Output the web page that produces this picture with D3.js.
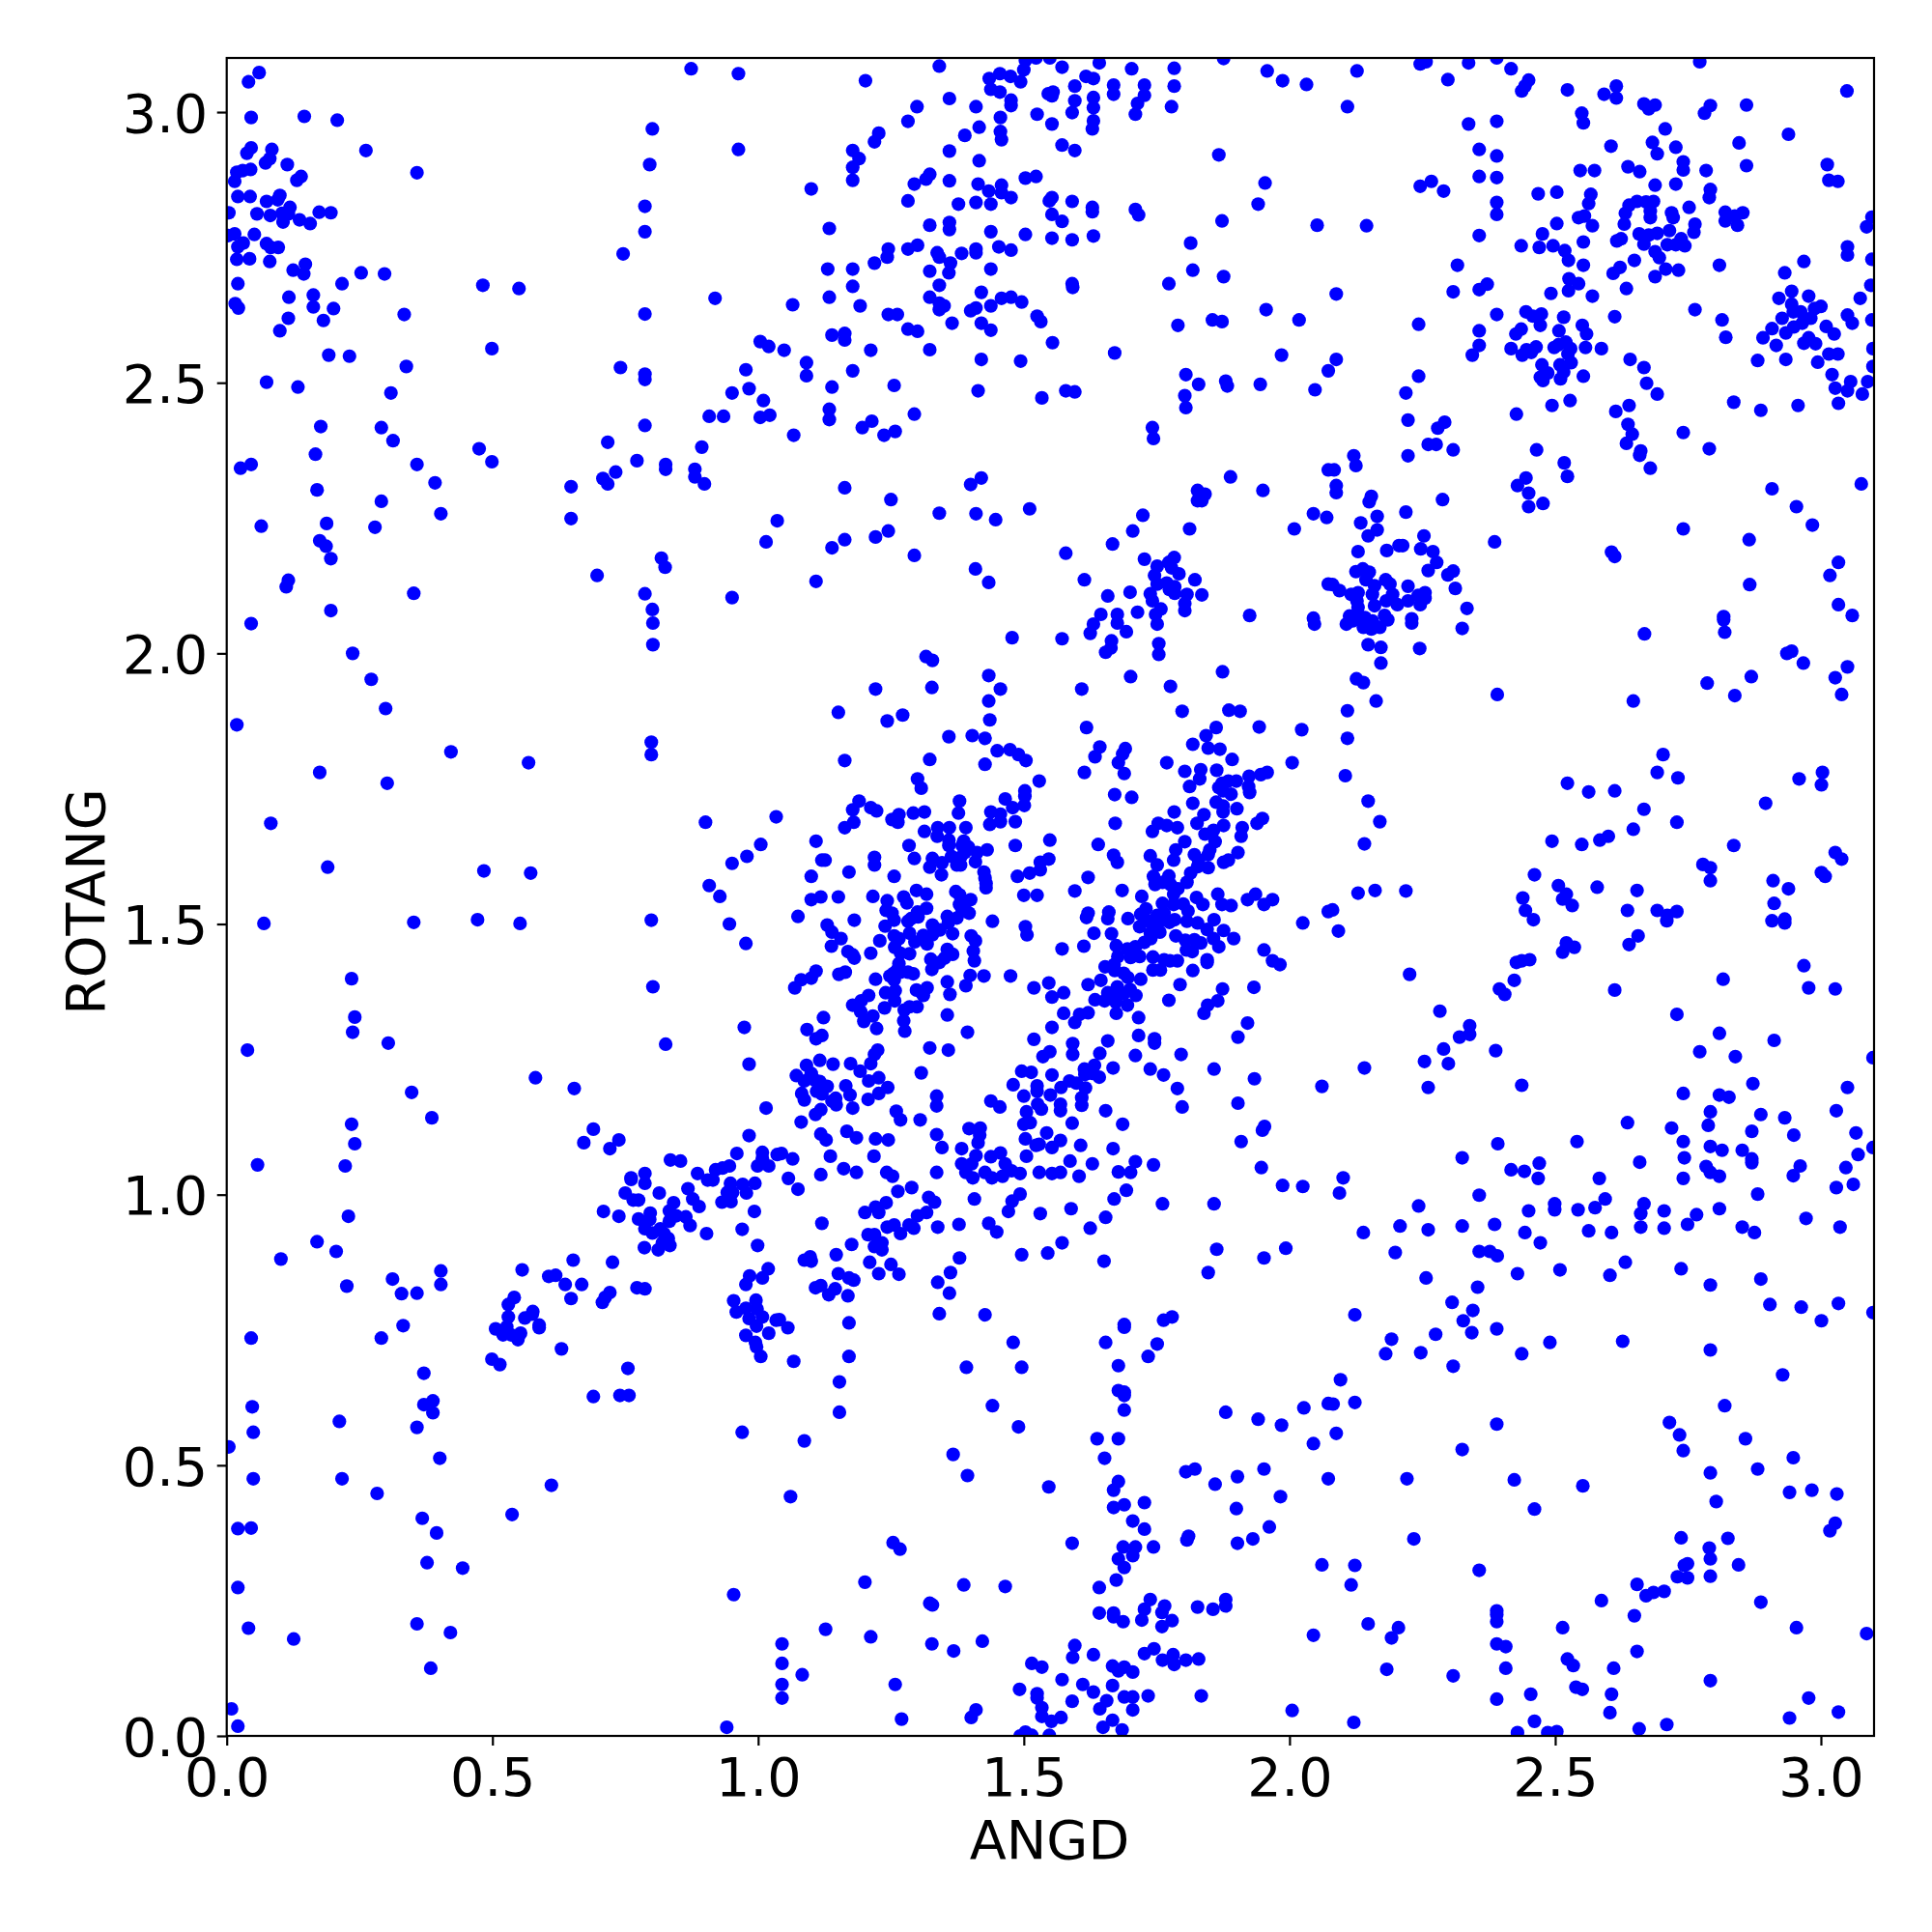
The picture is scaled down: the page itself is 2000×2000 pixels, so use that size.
<!DOCTYPE html>
<html><head><meta charset="utf-8">
<script src="https://cdnjs.cloudflare.com/ajax/libs/d3/7.8.5/d3.min.js"></script>
<style>html,body{margin:0;padding:0;background:#fff}svg{display:block}text{font-family:"DejaVu Sans",sans-serif;fill:#000}</style>
</head><body><svg id="c" width="2000" height="2000"></svg>
<script>
const xLabel="ANGD", yLabel="ROTANG";
const tickValues=[0,0.5,1,1.5,2,2.5,3];
const axisMax=3.1;
const upperLeft=[[.061,3.073],[.041,3.056],[.874,3.08],[.963,3.071],[.046,2.99],[.146,2.992],[.208,2.985],[.801,2.969],[.046,2.934],[.038,2.924],[.085,2.931],[.081,2.914],[.073,2.906],[.262,2.929],[.963,2.931],[.114,2.903],[.796,2.903],[.358,2.888],[.045,2.894],[.03,2.892],[.019,2.889],[.14,2.881],[.132,2.874],[.015,2.872],[.021,2.844],[.044,2.844],[.1,2.846],[.096,2.838],[.075,2.835],[.119,2.824],[.787,2.826],[.004,2.814],[.057,2.812],[.082,2.809],[.104,2.813],[.116,2.812],[.106,2.797],[.137,2.801],[.157,2.794],[.174,2.815],[.196,2.814],[.787,2.779],[.015,2.775],[.003,2.772],[.052,2.774],[.075,2.757],[.031,2.758],[.021,2.751],[.083,2.75],[.097,2.75],[.746,2.738],[.019,2.728],[.043,2.729],[.081,2.724],[.148,2.719],[.125,2.708],[.145,2.701],[.253,2.703],[.297,2.701],[.021,2.683],[.217,2.683],[.482,2.68],[.55,2.674],[.163,2.662],[.117,2.658],[.919,2.656],[.016,2.646],[.022,2.638],[.163,2.64],[.201,2.637],[.787,2.627],[.334,2.626],[.116,2.619],[.182,2.615],[.1,2.596],[1.004,2.576],[1.02,2.567],[.499,2.563],[.192,2.551],[.231,2.549],[.338,2.53],[.741,2.528],[.787,2.516],[.787,2.506],[.977,2.524],[.075,2.501],[.134,2.492],[.983,2.489],[.951,2.481],[.309,2.481],[1.01,2.467],[.908,2.438],[.935,2.438],[1.004,2.436],[1.022,2.44],[.177,2.419],[.291,2.417],[.787,2.421],[.313,2.393],[.717,2.39],[.894,2.381],[.475,2.378],[.167,2.368],[.499,2.354],[.772,2.356],[.046,2.349],[.026,2.342],[.358,2.349],[.826,2.349],[.826,2.34],[.881,2.34],[.881,2.326],[.732,2.335],[.708,2.323],[.717,2.313],[.899,2.313],[.392,2.315],[.648,2.308],[.17,2.302],[.291,2.281],[.403,2.258],[.648,2.249],[.188,2.24],[.065,2.235],[.279,2.233],[1.036,2.245],[.175,2.208],[.187,2.198],[1.015,2.206],[.196,2.175],[.818,2.176],[.825,2.159],[.697,2.144],[.116,2.135],[.112,2.123],[.352,2.111],[.787,2.11],[.951,2.103],[.801,2.081],[.196,2.079]];
const middleLeft=[[.046,2.055],[.802,2.056],[.802,2.016],[.237,2],[.272,1.952],[.299,1.898],[.019,1.868],[.799,1.836],[.799,1.813],[.422,1.818],[.568,1.798],[.175,1.78],[.302,1.76],[.083,1.686],[.901,1.688],[1.034,1.698],[1.005,1.647],[.979,1.625],[.951,1.612],[.19,1.605],[.484,1.598],[.572,1.594],[.908,1.571],[.928,1.551],[.07,1.501],[.352,1.503],[.472,1.508],[.552,1.501],[.799,1.507],[.946,1.5],[.977,1.464],[.235,1.399],[.802,1.384],[.241,1.328],[.237,1.3],[.974,1.309],[.039,1.267],[.304,1.28],[.826,1.278],[.983,1.241],[.581,1.216],[.654,1.196],[.348,1.189],[.386,1.142],[1.015,1.16],[.235,1.13],[.241,1.094],[.69,1.121],[.738,1.101],[.672,1.096],[.721,1.085],[.983,1.109],[.058,1.055],[.223,1.053],[.835,1.064],[.854,1.062],[.96,1.076],[1.008,1.078],[1.008,1.067],[.946,1.053],[.933,1.049],[.92,1.046],[.999,1.053],[1.02,1.053],[.886,1.039],[.787,1.039],[.761,1.031],[1.036,1.074]];
const lowerLeft=[[.761,1.028],[.787,1.021],[.75,1.003],[.765,.99],[.775,.99],[.814,1.003],[.709,.969],[.738,.96],[.868,1.011],[.877,.992],[.889,.978],[.905,1.027],[.915,1.027],[.948,1.021],[.942,1.004],[.952,1.004],[.932,.986],[.949,.987],[.971,1.019],[.994,1.021],[.978,1.003],[.993,.969],[.97,.936],[.999,.906],[.903,.928],[.841,.985],[.833,.97],[.797,.966],[.796,.954],[.775,.955],[.846,.961],[.833,.951],[.864,.959],[.872,.943],[.787,.937],[.801,.929],[.816,.937],[.823,.928],[.831,.919],[.834,.906],[.812,.898],[.82,.911],[.786,.902],[.652,.879],[.726,.875],[.556,.861],[.606,.849],[.619,.851],[.403,.859],[.403,.834],[.312,.844],[.329,.817],[.358,.818],[.226,.831],[.229,.96],[.17,.913],[.206,.895],[.102,.881],[.637,.834],[.668,.834],[.648,.808],[.721,.819],[.712,.81],[.707,.801],[.772,.828],[.787,.826],[.541,.81],[.53,.797],[.576,.784],[.575,.779],[.561,.772],[.53,.774],[.588,.759],[.588,.754],[.506,.752],[.527,.756],[.52,.741],[.535,.741],[.553,.744],[.548,.732],[.332,.758],[.291,.735],[.046,.735],[.63,.715],[.499,.696],[.514,.686],[.755,.679],[.371,.67],[.69,.627],[.74,.629],[.757,.629],[.388,.619],[.371,.612],[.388,.597],[.048,.608],[.212,.581],[.05,.561],[.358,.57],[.97,.561],[.004,.534],[.401,.513],[.05,.475],[.217,.475],[.611,.463],[.283,.448],[.537,.409],[.368,.402],[.395,.375],[.021,.383],[.046,.384],[.377,.32],[.444,.31],[.021,.274],[.954,.261],[.041,.199],[.126,.179],[.358,.207],[.421,.191],[.384,.125],[.009,.05],[.021,.018],[.941,.016],[.954,.804],[.959,.783],[.977,.79],[.996,.805],[.998,.789],[.983,.771],[1.008,.774],[.997,.757],[1.034,.768],[1.02,.744],[.977,.74],[.995,.727],[.997,.719],[1.005,.701],[.984,.85],[.977,.834],[1.008,.846],[1.019,.863]];
const upperMiddle=[[1.341,3.085],[1.202,3.058],[1.503,3.095],[1.5,3.078],[1.455,3.071],[1.435,3.062],[1.475,3.066],[1.494,3.056],[1.438,3.042],[1.455,3.037],[1.572,3.083],[1.549,3.1],[1.523,3.1],[1.642,3.091],[1.703,3.08],[1.783,3.081],[1.876,3.099],[1.958,3.076],[1.987,3.058],[2.032,3.051],[1.617,3.066],[1.631,3.062],[1.596,3.048],[1.669,3.05],[1.669,3.033],[1.727,3.05],[1.727,3.031],[1.783,3.048],[1.546,3.034],[1.555,3.037],[1.553,3.03],[1.631,3.027],[1.596,3.021],[1.476,3.022],[1.476,3.012],[1.36,3.025],[1.299,3.01],[1.41,3.01],[1.714,3.016],[1.778,3.01],[1.631,3.008],[1.591,2.999],[1.525,2.996],[1.71,2.996],[1.456,2.99],[1.282,2.983],[1.631,2.984],[1.629,2.969],[1.553,2.978],[1.416,2.972],[1.227,2.961],[1.219,2.945],[1.389,2.957],[1.456,2.964],[1.458,2.949],[1.572,2.939],[1.596,2.929],[1.178,2.929],[1.19,2.914],[1.178,2.898],[1.178,2.874],[1.36,2.928],[1.867,2.921],[1.416,2.91],[1.323,2.885],[1.316,2.876],[1.294,2.867],[1.36,2.873],[1.503,2.878],[1.523,2.881],[1.954,2.869],[1.1,2.858],[1.414,2.867],[1.458,2.865],[1.434,2.854],[1.458,2.851],[1.476,2.842],[1.553,2.842],[1.548,2.836],[1.591,2.835],[1.282,2.836],[1.377,2.83],[1.41,2.833],[1.438,2.83],[1.941,2.83],[1.629,2.824],[1.629,2.816],[1.71,2.82],[1.716,2.81],[1.553,2.811],[1.572,2.798],[1.873,2.799],[2.052,2.791],[1.323,2.791],[1.36,2.796],[1.36,2.783],[1.134,2.785],[1.438,2.779],[1.503,2.774],[1.553,2.767],[1.591,2.764],[1.631,2.771],[1.814,2.758],[1.3,2.754],[1.282,2.747],[1.245,2.747],[1.243,2.732],[1.453,2.751],[1.476,2.745],[1.41,2.747],[1.41,2.74],[1.337,2.74],[1.341,2.732],[1.383,2.739],[1.362,2.721],[1.219,2.721],[1.131,2.71],[1.178,2.71],[1.323,2.706],[1.359,2.703],[1.438,2.71],[1.818,2.708],[1.876,2.696],[1.773,2.683],[1.341,2.68],[1.178,2.678],[1.591,2.683],[1.592,2.676],[1.134,2.658],[1.323,2.658],[1.42,2.667],[1.458,2.656],[1.476,2.658],[1.496,2.649],[1.065,2.644],[1.192,2.642],[1.341,2.647],[1.35,2.642],[1.341,2.635],[1.41,2.638],[1.4,2.633],[1.438,2.642],[1.956,2.635],[1.245,2.626],[1.262,2.626],[1.525,2.623],[1.532,2.613],[1.855,2.616],[1.873,2.613],[2.018,2.616],[1.79,2.606],[1.365,2.61],[1.42,2.61],[1.438,2.597],[1.282,2.599],[1.3,2.595],[1.139,2.588],[1.163,2.591],[1.163,2.579],[1.554,2.574],[1.049,2.56],[1.212,2.56],[1.323,2.561],[1.671,2.555],[1.985,2.551],[1.091,2.537],[1.42,2.543],[1.494,2.54],[1.178,2.522],[2.073,2.522],[1.091,2.513],[1.805,2.515],[1.829,2.497],[1.88,2.503],[1.883,2.494],[1.945,2.497],[1.256,2.495],[1.139,2.492],[1.414,2.485],[1.579,2.485],[1.596,2.483],[2.048,2.487],[1.534,2.472],[1.803,2.476],[1.805,2.454],[1.134,2.451],[1.134,2.432],[1.294,2.442],[1.214,2.429],[1.196,2.417],[1.258,2.41],[1.237,2.403],[1.067,2.403],[1.742,2.417],[1.744,2.397],[1.42,2.324],[1.4,2.312],[1.889,2.326],[2.073,2.339],[1.163,2.306],[1.95,2.301],[1.827,2.301],[1.841,2.294],[1.827,2.282],[1.835,2.282],[1.25,2.284],[1.511,2.267],[1.341,2.259],[1.41,2.258],[1.447,2.247],[1.724,2.255],[2.045,2.258],[2.07,2.251],[1.705,2.226],[2.009,2.23],[1.812,2.23],[1.245,2.226],[1.221,2.215],[1.163,2.21],[1.139,2.195],[1.667,2.202],[1.294,2.181],[1.579,2.185],[1.727,2.174],[1.783,2.177],[1.773,2.168],[1.751,2.161],[1.778,2.158],[1.746,2.144],[1.792,2.147],[1.409,2.156],[1.434,2.131],[1.109,2.133],[1.614,2.136],[1.822,2.136],[1.751,2.128],[1.769,2.13],[1.784,2.123],[1.774,2.118],[1.784,2.111],[1.807,2.109],[1.835,2.108],[1.738,2.11],[1.742,2.097],[1.658,2.106],[1.7,2.113],[1.803,2.092],[1.803,2.079],[1.758,2.082],[1.748,2.072],[1.645,2.072],[1.676,2.072],[1.714,2.076],[1.925,2.07],[2.073,2.128],[2.045,2.065]];
const centerA=[[1.631,2.054],[1.625,2.037],[1.676,2.056],[1.693,2.04],[1.751,2.054],[1.754,2.018],[1.754,1.998],[1.665,2.023],[1.664,2.01],[1.654,2.002],[1.478,2.029],[1.572,2.027],[2.047,2.054],[1.316,1.994],[1.328,1.987],[1.434,1.959],[1.456,1.934],[1.434,1.912],[1.436,1.877],[1.221,1.934],[1.327,1.937],[1.609,1.934],[1.701,1.957],[1.776,1.939],[1.874,1.966],[1.151,1.891],[1.243,1.875],[1.272,1.886],[1.798,1.893],[1.886,1.895],[1.907,1.893],[1.618,1.863],[1.943,1.864],[2.023,1.859],[1.862,1.863],[1.843,1.848],[1.359,1.846],[1.403,1.848],[1.427,1.843],[1.643,1.827],[1.691,1.824],[1.686,1.814],[1.634,1.809],[1.818,1.832],[1.847,1.825],[1.869,1.823],[1.45,1.82],[1.474,1.822],[1.49,1.813],[1.504,1.802],[1.892,1.804],[1.323,1.804],[1.163,1.802],[1.427,1.795],[1.678,1.798],[1.769,1.798],[2.005,1.798],[1.614,1.78],[1.689,1.778],[1.803,1.782],[1.833,1.785],[1.831,1.768],[1.863,1.784],[1.958,1.78],[1.946,1.776],[1.924,1.773],[1.9,1.764],[1.885,1.764],[1.873,1.76],[1.867,1.752],[1.923,1.754],[1.925,1.743],[1.812,1.754],[1.89,1.74],[1.875,1.746],[1.3,1.768],[1.307,1.751],[1.529,1.764],[1.502,1.746],[1.502,1.736],[1.465,1.731],[1.671,1.739],[1.703,1.734],[1.19,1.727],[1.379,1.727],[1.818,1.723],[1.862,1.725],[1.875,1.718],[1.501,1.719],[1.479,1.715],[1.178,1.711],[1.212,1.715],[1.223,1.709],[1.875,1.707],[1.901,1.713],[1.265,1.702],[1.252,1.693],[1.263,1.688],[1.292,1.705],[1.313,1.707],[1.377,1.705],[1.438,1.707],[1.456,1.703],[1.783,1.707],[1.839,1.702],[1.949,1.695],[1.939,1.686],[1.456,1.689],[1.436,1.684],[1.484,1.689],[1.18,1.688],[1.163,1.678],[1.338,1.678],[1.36,1.678],[1.391,1.678],[1.672,1.686],[1.826,1.686],[1.876,1.682],[1.911,1.678],[1.753,1.686],[1.769,1.682],[1.789,1.678],[1.742,1.671],[1.313,1.671],[1.337,1.662],[1.857,1.673],[1.841,1.666],[1.909,1.662],[1.109,1.653],[1.549,1.655],[1.359,1.655],[1.359,1.645],[1.387,1.653],[1.384,1.645],[1.396,1.642],[1.64,1.647],[1.803,1.652],[1.86,1.652],[1.284,1.645],[1.484,1.645],[1.786,1.637],[1.85,1.637],[1.431,1.637],[1.412,1.632],[1.389,1.632],[1.903,1.632],[1.219,1.623],[1.738,1.626],[1.669,1.627],[1.821,1.628],[1.847,1.628],[1.12,1.618],[1.126,1.618],[1.294,1.621],[1.328,1.621],[1.364,1.625],[1.381,1.623],[1.547,1.62],[1.531,1.614],[1.676,1.614],[1.782,1.618],[1.829,1.618],[1.885,1.618],[1.876,1.614],[1.409,1.615],[1.219,1.609],[1.346,1.613],[1.374,1.609],[1.381,1.609],[1.323,1.605],[1.751,1.609],[1.827,1.606],[1.847,1.604],[1.171,1.596],[1.531,1.6],[1.511,1.594],[1.425,1.596],[1.814,1.594],[1.345,1.591],[1.621,1.586],[1.488,1.588],[1.1,1.588],[1.256,1.588],[1.427,1.585],[1.744,1.588],[1.773,1.589],[1.807,1.577],[1.429,1.575],[1.429,1.567],[1.747,1.573],[1.761,1.577],[1.776,1.573],[1.79,1.565],[1.685,1.562],[1.596,1.561],[1.372,1.56],[1.298,1.562],[1.274,1.55],[1.317,1.555],[1.379,1.554],[1.118,1.55],[1.151,1.55],[1.216,1.551],[1.5,1.553],[1.525,1.553],[1.722,1.551],[1.782,1.555],[1.825,1.549],[1.865,1.555],[1.936,1.555],[1.1,1.545],[1.243,1.543],[1.28,1.539],[1.4,1.545],[1.379,1.536],[1.391,1.54],[1.921,1.545],[1.952,1.536],[1.968,1.545],[1.837,1.536],[1.873,1.536],[1.89,1.534],[1.761,1.538],[1.782,1.536],[1.8,1.537]];
const centerB=[[1.317,1.529],[1.3,1.522],[1.241,1.525],[1.73,1.528],[1.809,1.524],[1.384,1.524],[1.397,1.52],[1.075,1.514],[1.252,1.52],[1.621,1.52],[1.618,1.512],[1.66,1.522],[1.658,1.51],[1.72,1.518],[2.073,1.523],[1.696,1.51],[1.764,1.52],[1.751,1.516],[1.784,1.508],[1.256,1.507],[1.288,1.51],[1.181,1.507],[1.301,1.513],[1.356,1.514],[1.374,1.511],[1.441,1.505],[1.858,1.508],[2.025,1.502],[1.13,1.498],[1.282,1.505],[1.358,1.502],[1.734,1.506],[1.757,1.506],[1.774,1.503],[1.807,1.505],[1.827,1.502],[1.503,1.495],[1.239,1.496],[1.328,1.498],[1.718,1.495],[1.747,1.497],[1.845,1.49],[1.139,1.485],[1.342,1.489],[1.876,1.488],[1.632,1.483],[1.665,1.482],[1.506,1.48],[1.366,1.482],[1.738,1.483],[1.756,1.485],[1.285,1.483],[1.256,1.478],[1.265,1.473],[1.311,1.479],[1.328,1.48],[1.401,1.478],[1.786,1.478],[1.156,1.473],[1.739,1.473],[1.895,1.473],[1.409,1.469],[1.229,1.469],[1.857,1.473],[1.804,1.47],[1.821,1.471],[1.727,1.466],[1.318,1.463],[1.295,1.467],[1.833,1.465],[1.674,1.46],[1.138,1.459],[1.613,1.459],[1.867,1.458],[1.71,1.458],[1.695,1.454],[1.257,1.457],[1.572,1.454],[1.806,1.452],[1.817,1.449],[1.952,1.452],[1.169,1.449],[1.212,1.446],[1.268,1.446],[1.285,1.445],[1.356,1.453],[1.405,1.45],[1.178,1.443],[1.366,1.444],[1.718,1.44],[1.743,1.439],[1.701,1.438],[1.677,1.44],[1.181,1.437],[1.351,1.437],[1.325,1.435],[1.764,1.434],[1.845,1.434],[1.845,1.429],[1.265,1.427],[1.341,1.429],[1.407,1.432],[1.789,1.432],[1.775,1.432],[1.968,1.432],[1.982,1.425],[1.67,1.425],[1.653,1.421],[1.109,1.413],[1.327,1.416],[1.262,1.415],[1.743,1.415],[1.757,1.415],[1.818,1.414],[1.671,1.414],[1.164,1.411],[1.152,1.407],[1.282,1.411],[1.255,1.409],[1.292,1.408],[1.248,1.404],[1.268,1.411],[1.688,1.409],[1.399,1.405],[1.425,1.404],[1.475,1.404],[1.081,1.397],[1.1,1.4],[1.696,1.401],[1.221,1.398],[1.256,1.397],[1.72,1.398],[1.645,1.396],[1.547,1.391],[1.356,1.393],[1.794,1.388],[1.069,1.382],[1.621,1.388],[1.391,1.386],[1.519,1.382],[1.676,1.384],[1.874,1.38],[1.933,1.383],[1.7,1.379],[1.298,1.378],[1.318,1.382],[1.258,1.377],[1.24,1.373],[1.307,1.374],[1.658,1.373],[1.575,1.373],[1.361,1.37],[1.311,1.368],[1.208,1.368],[1.711,1.368],[1.673,1.368],[1.688,1.371],[1.553,1.365],[1.652,1.358],[1.634,1.36],[1.257,1.358],[1.194,1.358],[1.673,1.356],[1.773,1.359],[1.865,1.358],[1.178,1.35],[1.695,1.35],[1.846,1.35],[1.299,1.347],[1.285,1.347],[1.238,1.345],[1.275,1.341],[1.193,1.338],[1.621,1.336],[1.575,1.335],[1.674,1.335],[1.839,1.335],[1.605,1.333],[1.356,1.332],[1.123,1.327],[1.216,1.33],[1.716,1.327],[1.596,1.318],[1.199,1.32],[1.274,1.321],[1.921,1.317],[1.223,1.307],[1.092,1.305],[1.553,1.309],[1.394,1.3],[1.276,1.302],[1.12,1.294],[1.109,1.288],[1.716,1.294],[1.903,1.291],[1.746,1.288],[1.746,1.28],[1.519,1.287],[1.658,1.284],[1.592,1.279],[1.323,1.271],[1.358,1.267],[1.225,1.267],[1.219,1.259],[1.549,1.264],[1.536,1.255],[1.592,1.259],[1.643,1.261],[1.71,1.257],[1.796,1.259],[1.116,1.248],[1.141,1.241],[1.212,1.242],[1.174,1.242],[1.091,1.239],[1.614,1.232],[1.633,1.239],[1.668,1.234],[1.738,1.232],[1.858,1.232],[1.763,1.221],[1.192,1.228],[1.307,1.225],[1.496,1.228],[1.514,1.226],[1.553,1.221],[1.1,1.224],[1.072,1.22],[1.227,1.216],[1.208,1.21],[1.615,1.222],[1.629,1.224],[1.642,1.217],[1.934,1.214],[2.061,1.2],[1.586,1.21],[1.087,1.21],[1.106,1.212],[1.116,1.209],[1.48,1.203],[1.599,1.206],[1.165,1.201],[1.525,1.201],[1.525,1.191],[1.57,1.198],[1.616,1.197],[1.244,1.198],[1.13,1.2],[1.11,1.191],[1.12,1.186],[1.227,1.187],[1.082,1.187],[1.789,1.196],[1.173,1.184],[1.5,1.182],[1.336,1.182],[1.55,1.184],[1.609,1.179],[1.087,1.175],[1.139,1.173],[1.146,1.178],[1.147,1.166],[1.207,1.176],[1.438,1.173],[1.526,1.167],[1.569,1.167],[1.903,1.169],[1.336,1.164],[1.455,1.162],[1.609,1.165],[1.798,1.162],[1.178,1.16],[1.533,1.158],[1.569,1.155],[1.118,1.157],[1.108,1.148],[1.26,1.154],[1.505,1.153],[1.654,1.155],[1.268,1.138],[1.305,1.138],[1.081,1.134],[1.512,1.133],[1.5,1.13],[1.591,1.132],[1.686,1.13],[1.953,1.126],[1.949,1.119],[1.397,1.122],[1.418,1.123],[1.417,1.11],[1.118,1.112],[1.167,1.117],[1.336,1.111],[1.543,1.114],[1.128,1.101],[1.185,1.105],[1.221,1.103],[1.245,1.101],[1.503,1.103],[1.569,1.1],[1.414,1.096],[1.909,1.098],[1.529,1.093],[1.523,1.091],[1.553,1.087],[1.607,1.091],[1.668,1.085],[1.346,1.087],[1.383,1.085],[1.044,1.076],[1.065,1.066],[1.136,1.071],[1.218,1.071],[1.41,1.072],[1.438,1.07],[1.456,1.077],[1.505,1.071],[1.383,1.057],[1.402,1.057],[1.465,1.057],[1.587,1.062],[1.71,1.061],[1.629,1.057],[1.744,1.055],[1.947,1.05],[1.161,1.048],[1.185,1.041],[1.118,1.037],[1.242,1.041],[1.253,1.034],[1.336,1.041],[1.391,1.041],[1.427,1.041],[1.477,1.044],[1.493,1.039],[1.529,1.041],[1.553,1.039],[1.569,1.041],[1.678,1.042],[1.701,1.041],[1.604,1.034],[1.46,1.034],[1.057,1.03],[1.44,1.031],[1.404,1.031]];
const lowerMiddle=[[1.075,1.01],[1.12,.947],[1.263,1.006],[1.289,1.013],[1.241,.985],[1.221,.977],[1.201,.967],[1.227,.967],[1.321,.995],[1.332,.986],[1.317,.967],[1.3,.961],[1.407,.992],[1.493,1.001],[1.478,.988],[1.471,.969],[1.531,.965],[1.589,.974],[1.67,.992],[1.693,1.008],[1.654,.958],[1.625,.938],[1.761,.983],[1.858,.983],[1.987,1.017],[2.025,1.015],[1.378,.945],[1.338,.94],[1.434,.947],[1.449,.931],[1.243,.94],[1.256,.944],[1.268,.928],[1.284,.944],[1.293,.938],[1.207,.926],[1.219,.926],[1.233,.911],[1.219,.904],[1.233,.898],[1.176,.908],[1.572,.911],[1.147,.889],[1.496,.889],[1.545,.892],[1.651,.877],[1.863,.899],[1.993,.901],[1.952,.883],[1.087,.879],[1.098,.885],[1.1,.877],[1.379,.883],[1.21,.875],[1.25,.871],[1.362,.856],[1.847,.856],[1.151,.854],[1.227,.854],[1.265,.853],[1.171,.846],[1.18,.842],[1.338,.838],[1.118,.832],[1.108,.828],[1.145,.826],[1.133,.815],[1.169,.813],[1.36,.818],[1.341,.78],[1.427,.778],[1.779,.774],[1.763,.768],[1.689,.76],[1.689,.755],[1.04,.769],[1.056,.754],[1.171,.763],[1.48,.727],[1.654,.727],[1.751,.724],[1.734,.701],[1.171,.701],[1.067,.692],[1.392,.681],[1.496,.681],[1.678,.684],[1.153,.654],[1.678,.638],[1.689,.635],[1.689,.629],[1.441,.61],[1.153,.598],[1.689,.602],[1.88,.598],[1.941,.585],[1.985,.574],[2.027,.606],[1.49,.571],[1.087,.545],[1.638,.549],[1.678,.549],[2.045,.54],[1.652,.513],[1.367,.52],[2.073,.614],[1.394,.481],[1.952,.493],[1.822,.493],[1.805,.488],[1.902,.479],[1.86,.465],[2.073,.475],[1.678,.47],[1.669,.454],[1.547,.46],[1.061,.442],[1.983,.442],[1.727,.431],[1.689,.427],[1.669,.422],[1.9,.42],[1.705,.397],[1.962,.386],[1.727,.382],[1.81,.369],[1.807,.362],[1.931,.364],[1.591,.356],[1.902,.356],[1.254,.357],[1.267,.345],[1.687,.349],[1.71,.349],[1.744,.349],[1.705,.333],[1.678,.327],[1.689,.311],[2.061,.316],[1.674,.288],[1.201,.284],[1.387,.279],[1.465,.276],[1.642,.274],[1.323,.245],[1.328,.242],[1.738,.252],[1.765,.24],[1.727,.234],[1.76,.228],[1.827,.238],[1.856,.234],[1.88,.252],[1.88,.24],[1.642,.227],[1.669,.227],[1.669,.22],[1.687,.211],[1.722,.214],[1.779,.213],[1.76,.202],[1.127,.197],[1.212,.183],[2.045,.186],[1.045,.17],[1.327,.17],[1.422,.175],[1.368,.157],[1.596,.167],[1.727,.152],[1.745,.161],[1.631,.15],[1.592,.145],[1.781,.15],[1.761,.14],[1.783,.132],[1.805,.14],[1.829,.142],[1.045,.134],[1.515,.134],[1.534,.127],[1.667,.129],[1.689,.127],[1.678,.12],[1.705,.118],[1.083,.113],[1.045,.095],[1.258,.095],[1.572,.104],[1.611,.095],[1.667,.093],[1.492,.086],[1.631,.081],[1.525,.078],[1.525,.07],[1.045,.07],[1.591,.064],[1.656,.065],[1.689,.072],[1.705,.072],[1.734,.074],[1.834,.074],[1.643,.05],[1.41,.048],[1.401,.034],[1.534,.052],[1.705,.048],[2.005,.047],[1.534,.036],[1.57,.034],[1.552,.027],[1.27,.031],[1.667,.029],[1.649,.016],[1.685,.011],[1.503,.007],[1.493,0],[1.515,.001],[1.548,.001]];
const upperRight=[[2.127,3.076],[2.109,3.01],[2.246,3.089],[2.257,3.093],[2.337,3.091],[2.39,3.1],[2.417,3.08],[2.298,3.06],[2.45,3.059],[2.443,3.048],[2.437,3.039],[2.523,3.041],[2.615,3.048],[2.592,3.033],[2.615,3.026],[2.772,3.093],[3.049,3.039],[2.667,3.015],[2.676,3.006],[2.688,3.013],[2.792,3.012],[2.781,2.998],[2.86,3.013],[2.55,2.998],[2.553,2.98],[2.337,2.978],[2.39,2.983],[2.707,2.969],[2.939,2.959],[2.683,2.944],[2.605,2.937],[2.727,2.935],[2.846,2.943],[2.357,2.931],[2.39,2.919],[2.692,2.923],[2.741,2.908],[2.741,2.893],[2.86,2.901],[2.637,2.899],[2.659,2.89],[2.547,2.892],[2.574,2.892],[2.784,2.892],[3.012,2.903],[2.357,2.881],[2.39,2.879],[3.015,2.874],[3.032,2.872],[2.267,2.872],[2.246,2.863],[2.29,2.854],[2.688,2.865],[2.727,2.867],[2.792,2.857],[2.79,2.842],[2.468,2.849],[2.503,2.852],[2.567,2.848],[2.563,2.831],[2.39,2.833],[2.39,2.811],[2.685,2.835],[2.671,2.834],[2.654,2.835],[2.639,2.828],[2.632,2.813],[2.63,2.793],[2.679,2.817],[2.679,2.805],[2.719,2.814],[2.722,2.805],[2.752,2.824],[2.82,2.815],[2.853,2.814],[2.838,2.808],[2.82,2.799],[2.843,2.791],[2.763,2.793],[2.761,2.778],[2.544,2.805],[2.555,2.808],[2.57,2.79],[2.503,2.794],[2.145,2.79],[3.086,2.788],[3.096,2.806],[2.715,2.781],[2.658,2.775],[2.676,2.773],[2.692,2.776],[2.476,2.775],[2.357,2.772],[2.667,2.756],[2.624,2.766],[2.616,2.762],[2.553,2.76],[2.436,2.753],[2.47,2.75],[2.496,2.753],[2.518,2.744],[2.711,2.755],[2.727,2.755],[2.737,2.766],[2.744,2.753],[2.688,2.742],[2.696,2.731],[2.525,2.726],[2.649,2.726],[3.05,2.751],[3.05,2.736],[3.096,2.728],[2.316,2.717],[2.553,2.717],[2.708,2.71],[2.732,2.708],[2.809,2.717],[2.968,2.724],[2.622,2.713],[2.609,2.702],[2.932,2.703],[2.688,2.696],[2.526,2.692],[2.544,2.683],[2.525,2.67],[2.372,2.682],[2.357,2.672],[2.308,2.668],[2.634,2.674],[2.492,2.665],[2.57,2.66],[2.088,2.664],[2.945,2.669],[2.921,2.656],[2.977,2.66],[3.094,2.68],[3.074,2.656],[2.763,2.635],[3,2.641],[2.988,2.637],[2.945,2.645],[2.948,2.631],[2.962,2.631],[3.05,2.625],[2.445,2.631],[2.474,2.627],[2.458,2.623],[2.39,2.626],[2.516,2.621],[2.612,2.622],[2.814,2.616],[3.059,2.61],[3.096,2.616],[2.927,2.619],[2.981,2.619],[2.965,2.61],[2.949,2.603],[2.243,2.608],[2.472,2.606],[2.551,2.606],[2.357,2.596],[2.436,2.599],[2.426,2.59],[2.507,2.596],[2.559,2.59],[2.908,2.6],[2.934,2.592],[3.01,2.604],[3.025,2.59],[2.891,2.583],[2.821,2.584],[2.977,2.583],[2.968,2.573],[2.99,2.572],[2.916,2.569],[2.357,2.569],[2.344,2.551],[2.417,2.563],[2.438,2.551],[2.446,2.561],[2.455,2.556],[2.464,2.566],[2.498,2.565],[2.506,2.57],[2.52,2.575],[2.529,2.563],[2.524,2.553],[2.557,2.565],[2.587,2.563],[3.098,2.563],[2.088,2.543],[2.641,2.543],[2.667,2.528],[2.881,2.541],[2.934,2.543],[3.015,2.553],[3.032,2.553],[2.994,2.538],[2.475,2.533],[2.509,2.533],[2.53,2.537],[2.486,2.518],[2.516,2.52],[3.098,2.53],[2.243,2.512],[2.472,2.51],[2.477,2.504],[2.51,2.507],[2.553,2.512],[3.021,2.515],[2.672,2.499],[3.056,2.502],[3.088,2.502],[2.219,2.481],[2.692,2.479],[3.027,2.49],[3.05,2.485],[3.078,2.479],[2.528,2.467],[2.494,2.458],[2.639,2.458],[2.836,2.464],[2.957,2.458],[3.033,2.462],[2.614,2.447],[2.887,2.449],[2.427,2.442],[2.223,2.431],[2.292,2.427],[2.279,2.416],[2.637,2.423],[2.741,2.408],[2.645,2.405],[2.261,2.386],[2.276,2.386],[2.634,2.388],[2.308,2.376],[2.465,2.376],[2.79,2.378],[2.661,2.374],[2.659,2.366],[2.223,2.365],[2.121,2.365],[2.125,2.347],[2.517,2.352],[2.679,2.342],[2.084,2.339],[2.523,2.327],[2.445,2.324],[2.429,2.31],[2.088,2.31],[2.088,2.297],[3.076,2.313],[2.908,2.304],[2.45,2.296],[2.154,2.29],[2.15,2.28],[2.288,2.284],[2.477,2.277],[2.45,2.271],[2.954,2.271],[2.219,2.261],[2.165,2.253],[2.134,2.241],[2.984,2.237],[2.165,2.228],[2.148,2.217],[2.741,2.23],[2.253,2.217],[2.206,2.199],[2.213,2.199],[2.386,2.206],[2.865,2.21],[2.247,2.193],[2.183,2.19],[2.27,2.188],[2.129,2.188],[2.606,2.187],[2.612,2.179],[2.277,2.168],[3.033,2.168],[3.017,2.144],[2.261,2.153],[2.308,2.152],[2.298,2.145],[2.125,2.151],[2.138,2.156],[2.15,2.15],[2.144,2.136],[2.181,2.136],[2.189,2.128],[2.16,2.125],[2.223,2.124],[2.866,2.127],[2.312,2.12],[2.081,2.127],[2.094,2.116],[2.116,2.109],[2.129,2.112],[2.156,2.109],[2.194,2.109],[2.255,2.112],[2.242,2.107],[2.182,2.097],[2.203,2.09],[2.223,2.097],[2.255,2.102],[2.246,2.09],[2.127,2.097],[2.16,2.088],[2.334,2.083],[2.129,2.085],[3.033,2.09],[3.059,2.07],[2.817,2.068],[2.113,2.069],[2.129,2.072],[2.142,2.066],[2.179,2.07],[2.23,2.064]];
const middleRight=[[2.107,2.054],[2.119,2.06],[2.139,2.048],[2.154,2.045],[2.17,2.048],[2.185,2.062],[2.156,2.06],[2.139,2.06],[2.23,2.056],[2.325,2.046],[2.668,2.036],[2.817,2.062],[2.819,2.039],[2.148,2.016],[2.172,2.011],[2.245,2.009],[2.172,1.982],[2.945,2.004],[2.936,2],[2.967,1.982],[3.05,1.975],[3.027,1.955],[2.126,1.953],[2.139,1.946],[2.869,1.957],[2.786,1.945],[2.838,1.922],[3.039,1.924],[2.391,1.924],[2.163,1.912],[2.647,1.912],[2.109,1.894],[2.109,1.843],[2.703,1.813],[2.692,1.78],[2.731,1.77],[3.003,1.78],[2.959,1.768],[3.001,1.757],[2.105,1.774],[2.523,1.76],[2.563,1.744],[2.612,1.746],[2.896,1.723],[2.148,1.727],[2.667,1.712],[2.17,1.689],[2.729,1.688],[2.647,1.675],[2.6,1.662],[2.584,1.655],[2.494,1.653],[2.55,1.647],[2.141,1.648],[2.836,1.645],[3.027,1.632],[3.039,1.62],[2.778,1.61],[2.792,1.604],[2.461,1.591],[3.001,1.595],[3.008,1.588],[2.792,1.58],[2.91,1.58],[2.506,1.571],[2.579,1.568],[2.939,1.565],[2.654,1.562],[2.129,1.557],[2.161,1.562],[2.219,1.561],[2.439,1.548],[2.521,1.555],[2.514,1.546],[2.532,1.534],[2.912,1.538],[2.081,1.526],[2.636,1.525],[2.692,1.525],[2.729,1.523],[2.444,1.525],[2.711,1.516],[2.71,1.506],[2.908,1.506],[2.932,1.509],[2.932,1.502],[2.459,1.508],[2.092,1.487],[2.656,1.478],[2.639,1.462],[2.521,1.465],[2.536,1.457],[2.514,1.448],[2.452,1.434],[2.437,1.432],[2.427,1.429],[2.968,1.423],[2.226,1.407],[2.423,1.396],[2.816,1.398],[2.395,1.38],[2.405,1.37],[2.612,1.378],[2.977,1.382],[3.027,1.38],[2.283,1.339],[2.729,1.333],[2.339,1.312],[2.339,1.296],[2.32,1.291],[2.809,1.298],[2.912,1.285],[2.29,1.269],[2.388,1.266],[2.772,1.264],[2.839,1.255],[3.098,1.253],[2.254,1.246],[2.299,1.242],[2.141,1.234],[2.437,1.202],[2.872,1.205],[3.05,1.198],[2.261,1.198],[2.741,1.187],[2.809,1.184],[2.827,1.18],[2.792,1.153],[2.887,1.148],[2.932,1.142],[3.029,1.155],[2.636,1.133],[2.719,1.123],[2.788,1.128],[2.87,1.117],[2.949,1.11],[3.066,1.114],[2.392,1.094],[2.541,1.098],[2.741,1.098],[2.792,1.089],[2.814,1.082],[2.852,1.082],[3.098,1.087],[2.87,1.066],[2.87,1.059],[3.07,1.074],[2.325,1.068],[2.47,1.058],[2.659,1.06],[2.743,1.068],[2.784,1.052],[2.792,1.041],[2.961,1.053],[3.047,1.05],[2.417,1.046],[2.442,1.043],[2.101,1.031],[2.948,1.035],[2.468,1.03],[2.583,1.03],[2.741,1.03],[2.809,1.034]];
const lowerRight=[[2.094,1.003],[2.357,.999],[2.499,.983],[2.499,.972],[2.881,1.001],[3.029,1.013],[3.061,1.019],[2.243,.979],[2.45,.97],[2.543,.972],[2.575,.976],[2.594,.992],[2.667,.983],[2.661,.965],[2.705,.97],[2.809,.974],[2.766,.963],[2.972,.956],[2.208,.942],[2.139,.93],[2.261,.935],[2.325,.942],[2.386,.945],[2.443,.93],[2.563,.933],[2.606,.93],[2.661,.94],[2.705,.938],[2.749,.945],[2.852,.94],[2.875,.93],[3.036,.94],[2.472,.911],[2.199,.893],[2.357,.895],[2.377,.895],[2.391,.887],[2.632,.875],[2.429,.854],[2.509,.861],[2.603,.851],[2.737,.863],[2.257,.846],[2.887,.844],[2.792,.833],[2.354,.829],[2.306,.801],[2.904,.797],[2.963,.792],[3.033,.799],[2.123,.778],[2.345,.786],[3.098,.782],[2.327,.767],[3.001,.767],[2.343,.745],[2.39,.752],[2.275,.742],[2.192,.733],[2.49,.727],[2.627,.729],[2.792,.713],[2.181,.706],[2.247,.708],[2.437,.706],[2.308,.683],[2.928,.667],[2.096,.658],[2.082,.613],[2.123,.616],[2.819,.61],[2.715,.579],[2.39,.576],[2.734,.556],[2.088,.559],[2.858,.549],[2.325,.529],[2.741,.527],[2.948,.514],[2.881,.493],[2.221,.475],[2.423,.473],[2.792,.486],[2.552,.462],[2.941,.45],[2.983,.454],[3.03,.447],[2.803,.433],[2.461,.419],[3.027,.393],[3.017,.379],[2.737,.366],[2.825,.365],[2.234,.364],[2.79,.347],[2.792,.327],[2.749,.318],[2.743,.315],[2.123,.315],[2.845,.316],[2.357,.306],[2.73,.294],[2.749,.292],[2.792,.295],[2.116,.279],[2.654,.28],[2.705,.267],[2.685,.265],[2.671,.259],[2.587,.25],[2.887,.247],[2.39,.231],[2.39,.224],[2.39,.211],[2.649,.222],[2.148,.207],[2.205,.2],[2.514,.2],[2.954,.2],[3.086,.189],[2.192,.181],[2.39,.17],[2.407,.165],[2.654,.156],[2.523,.142],[2.534,.13],[2.61,.125],[2.407,.125],[2.183,.123],[2.308,.111],[2.792,.102],[2.539,.09],[2.551,.086],[2.454,.077],[2.606,.077],[2.39,.068],[2.977,.07],[2.603,.043],[3.033,.044],[2.121,.025],[2.461,.027],[2.941,.033],[2.71,.021],[2.658,.013],[2.429,.006],[2.486,.006],[2.503,.008]];

const points=[upperLeft,middleLeft,lowerLeft,upperMiddle,centerA,centerB,lowerMiddle,upperRight,middleRight,lowerRight].flat();
const L=234.7,R=1940,T=60,B=1797;
const x=d3.scaleLinear().domain([0,axisMax]).range([L,R]);
const y=d3.scaleLinear().domain([0,axisMax]).range([B,T]);
const svg=d3.select("#c");
svg.append("defs").append("clipPath").attr("id","plot").append("rect")
  .attr("x",L).attr("y",T).attr("width",R-L).attr("height",B-T);
svg.append("g").attr("clip-path","url(#plot)").selectAll("circle").data(points).join("circle")
  .attr("cx",d=>x(d[0])).attr("cy",d=>y(d[1])).attr("r",7.1).attr("fill","#0000ff");
svg.append("rect").attr("x",L).attr("y",T).attr("width",R-L).attr("height",B-T)
  .attr("fill","none").attr("stroke","#000").attr("stroke-width",2.2);
const fontSize=55.6;
const xAxis=d3.axisBottom(x).tickValues(tickValues).tickFormat(d3.format(".1f")).tickSize(10).tickSizeOuter(0).tickPadding(13);
const yAxis=d3.axisLeft(y).tickValues(tickValues).tickFormat(d3.format(".1f")).tickSize(10).tickSizeOuter(0).tickPadding(9.5);
const gx=svg.append("g").attr("transform",`translate(0,${B})`).call(xAxis);
const gy=svg.append("g").attr("transform",`translate(${L},0)`).call(yAxis);
for(const g of [gx,gy]){
  g.select(".domain").remove();
  g.selectAll("line").attr("stroke","#000").attr("stroke-width",2.2);
  g.selectAll("text").attr("font-size",fontSize).attr("font-family","DejaVu Sans").attr("fill","#000");
}
gy.selectAll("text").attr("dy","0.365em");
svg.append("text").attr("x",1086.5).attr("y",1924).attr("text-anchor","middle").attr("font-size",fontSize).text(xLabel);
svg.append("text").attr("transform",`translate(108.3,933.5) rotate(-90)`).attr("text-anchor","middle").attr("font-size",fontSize).text(yLabel);
</script></body></html>
